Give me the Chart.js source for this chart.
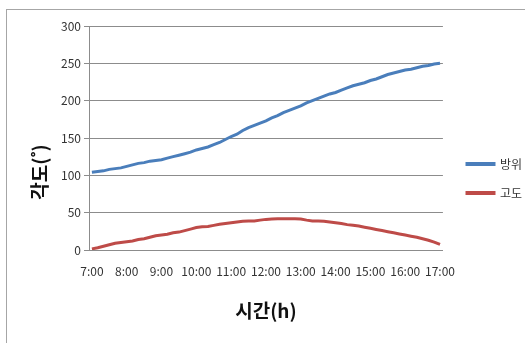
<!DOCTYPE html>
<html>
<head>
<meta charset="utf-8">
<script src="https://cdn.jsdelivr.net/npm/chart.js@4/dist/chart.umd.min.js"></script>
<style>
  html, body { margin: 0; padding: 0; background: #fff; overflow: hidden; }
  #frame { position: absolute; left: 6px; top: 9px; width: 600px; height: 400px; border: 1px solid #a6a6a6; }
  #chart { position: absolute; left: 0; top: 0; }
</style>
</head>
<body>
<div id="frame"></div>
<canvas id="chart" width="525" height="343"></canvas>
<script>
const times = [
  "7:00", "7:10", "7:20", "7:30", "7:40", "7:50",
  "8:00", "8:10", "8:20", "8:30", "8:40", "8:50",
  "9:00", "9:10", "9:20", "9:30", "9:40", "9:50",
  "10:00", "10:10", "10:20", "10:30", "10:40", "10:50",
  "11:00", "11:10", "11:20", "11:30", "11:40", "11:50",
  "12:00", "12:10", "12:20", "12:30", "12:40", "12:50",
  "13:00", "13:10", "13:20", "13:30", "13:40", "13:50",
  "14:00", "14:10", "14:20", "14:30", "14:40", "14:50",
  "15:00", "15:10", "15:20", "15:30", "15:40", "15:50",
  "16:00", "16:10", "16:20", "16:30", "16:40", "16:50",
  "17:00"
];
const hourLabels = ["7:00", "8:00", "9:00", "10:00", "11:00", "12:00", "13:00", "14:00", "15:00", "16:00", "17:00"];

// 방위 (azimuth)
const azimuth = [
  104, 105, 106, 108, 109, 110,
  112, 114, 116, 117, 119, 120,
  121, 123, 125, 127, 129, 131,
  134, 136, 138, 141, 144, 148,
  152, 155, 160, 164, 167, 170,
  173, 177, 180, 184, 187, 190,
  193, 197, 200, 203, 206, 209,
  211, 214, 217, 220, 222, 224,
  227, 229, 232, 235, 237, 239,
  241, 242, 244, 246, 247, 249,
  250
];
// 고도 (altitude)
const altitude = [
  1.5, 3, 5, 7, 9, 10,
  11, 12, 14, 15, 17, 19,
  20, 21, 23, 24, 26, 28,
  30, 31, 31.5, 33, 34.5, 35.5,
  36.5, 37.5, 38.5, 39, 39, 40,
  41, 41.5, 42, 42, 42, 42,
  41.5, 40, 39, 39, 38.5, 37.5,
  36.5, 35.5, 34, 33, 32, 30.5,
  29, 27.5, 26, 24.5, 23, 21.5,
  20, 18.5, 17, 15, 13, 10.5,
  7.5
];

const xTitle = "시간(h)";
const yTitle = "각도(˚)";

const axisColor = "#8c8c8c";
const textColor = "#333";
const krFont = '"Noto Sans CJK KR", "Noto Sans", sans-serif';

const extras = {
  id: "extras",
  afterLayout(chart) {
    // move legend away from plot area like the original
    const lg = chart.legend;
    const dx = 467 - 17 - lg.left;
    lg.left += dx;
    lg.right += dx;
    lg.top -= 6;
    lg.bottom -= 6;
  },
  afterDraw(chart) {
    const { ctx, chartArea } = chart;
    ctx.save();
    ctx.font = "bold 19px " + krFont;
    ctx.fillStyle = "#111";
    ctx.textAlign = "center";
    ctx.textBaseline = "middle";
    ctx.fillText(xTitle, (chartArea.left + chartArea.right) / 2, chartArea.bottom + 61);
    ctx.translate(chartArea.left - 49, chartArea.top + 146);
    ctx.rotate(-Math.PI / 2);
    ctx.fillText(yTitle, 0, 0);
    ctx.restore();
  },
};

new Chart(document.getElementById("chart"), {
  type: "line",
  data: {
    labels: times,
    datasets: [
      {
        label: "방위",
        data: azimuth,
        borderColor: "#4a7ebb",
        backgroundColor: "#4a7ebb",
        borderWidth: 3,
        pointRadius: 0,
        fill: false,
      },
      {
        label: "고도",
        data: altitude,
        borderColor: "#be4b48",
        backgroundColor: "#be4b48",
        borderWidth: 3,
        pointRadius: 0,
        fill: false,
      },
    ],
  },
  options: {
    responsive: false,
    animation: false,
    layout: { padding: { top: 26, left: 0, right: 0, bottom: 0 } },
    plugins: {
      tooltip: { enabled: false },
      legend: {
        position: "right",
        labels: {
          boxWidth: 27,
          boxHeight: 1,
          padding: 17,
          color: textColor,
          font: { family: krFont, size: 12 },
        },
      },
    },
    scales: {
      x: {
        offset: true,
        grid: { display: false },
        border: { color: axisColor },
        ticks: {
          autoSkip: false,
          maxRotation: 0,
          minRotation: 0,
          color: textColor,
          font: { family: krFont, size: 12 },
          padding: 6,
          callback: (v, i) => (hourLabels.includes(times[i]) ? times[i] : ""),
        },
        afterFit: (scale) => { scale.height = 93; },
      },
      y: {
        min: 0,
        max: 300,
        ticks: { stepSize: 50, color: textColor, font: { family: krFont, size: 12 }, padding: 3 },
        grid: { color: axisColor, tickLength: 5 },
        border: { color: axisColor },
        afterFit: (scale) => { scale.width = 89; },
      },
    },
  },
  plugins: [extras],
});
</script>
</body>
</html>
